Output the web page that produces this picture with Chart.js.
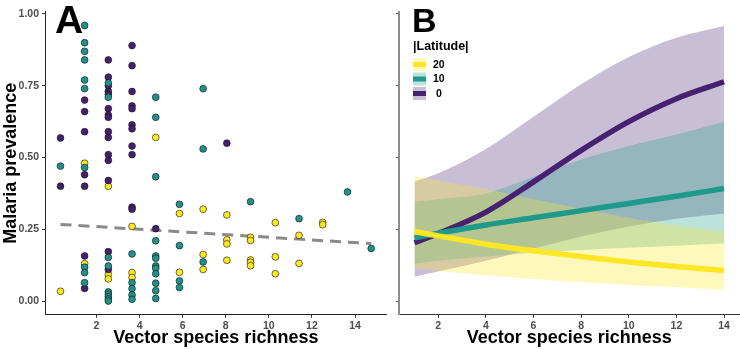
<!DOCTYPE html>
<html>
<head>
<meta charset="utf-8">
<script src="https://cdn.jsdelivr.net/npm/chart.js@4.4.1/dist/chart.umd.min.js"></script>
<style>
  body { margin: 0; background: #fff; }
  #wrap { position: relative; width: 740px; height: 349px; }
  #boxA { position: absolute; left: 0; top: 0; width: 392px; height: 349px; }
  #boxB { position: absolute; left: 392px; top: 0; width: 348px; height: 349px; }
</style>
</head>
<body>
<div id="wrap">
  <div id="boxA"><canvas id="chartA" width="392" height="349"></canvas></div>
  <div id="boxB"><canvas id="chartB" width="348" height="349"></canvas></div>
</div>
<script>
// panel A: points as [vector species richness, malaria prevalence]
const purplePoints = [
  [0.33, 0.568], [0.33, 0.40],
  [1.45, 0.70], [1.45, 0.66], [1.45, 0.59], [1.45, 0.44], [1.45, 0.40], [1.45, 0.157], [1.45, 0.044],
  [2.55, 0.84], [2.55, 0.78], [2.55, 0.75], [2.55, 0.73], [2.55, 0.72], [2.55, 0.67], [2.55, 0.648],
  [2.55, 0.64], [2.55, 0.59], [2.55, 0.57], [2.55, 0.51], [2.55, 0.49], [2.55, 0.42], [2.55, 0.172], [2.55, 0.11],
  [3.65, 0.89], [3.65, 0.82], [3.65, 0.73], [3.65, 0.68], [3.65, 0.67], [3.65, 0.614], [3.65, 0.60],
  [3.65, 0.54], [3.65, 0.51], [3.65, 0.327], [3.65, 0.32],
  [4.75, 0.252],
  [8.05, 0.55]
];
const tealPoints = [
  [0.33, 0.47],
  [1.45, 0.96], [1.45, 0.90], [1.45, 0.87], [1.45, 0.84], [1.45, 0.77], [1.45, 0.74], [1.45, 0.465],
  [1.45, 0.118], [1.45, 0.099], [1.45, 0.064],
  [2.55, 0.76], [2.55, 0.71], [2.55, 0.152], [2.55, 0.122], [2.55, 0.032], [2.55, 0.024], [2.55, 0.015],
  [2.55, 0.007], [2.55, 0.0],
  [3.65, 0.164], [3.65, 0.064], [3.65, 0.043], [3.65, 0.021], [3.65, 0.006],
  [4.75, 0.71], [4.75, 0.64], [4.75, 0.433], [4.75, 0.21], [4.75, 0.157], [4.75, 0.149], [4.75, 0.122],
  [4.75, 0.114], [4.75, 0.095], [4.75, 0.062], [4.75, 0.036], [4.75, 0.009],
  [5.85, 0.337], [5.85, 0.193], [5.85, 0.07], [5.85, 0.047],
  [6.95, 0.74], [6.95, 0.53], [6.95, 0.136],
  [9.15, 0.346], [11.4, 0.287], [13.65, 0.38], [14.75, 0.183]
];
const yellowPoints = [
  [0.33, 0.034],
  [1.45, 0.48], [1.45, 0.13],
  [2.55, 0.40], [2.55, 0.093], [2.55, 0.077],
  [3.65, 0.26], [3.65, 0.099], [3.65, 0.082],
  [4.75, 0.57],
  [5.85, 0.305], [5.85, 0.10],
  [6.95, 0.32], [6.95, 0.162], [6.95, 0.11],
  [8.05, 0.30], [8.05, 0.213], [8.05, 0.199], [8.05, 0.142],
  [9.15, 0.222], [9.15, 0.211], [9.15, 0.143], [9.15, 0.135], [9.15, 0.123],
  [10.3, 0.273], [10.3, 0.154], [10.3, 0.095],
  [11.4, 0.229], [11.4, 0.131],
  [12.5, 0.274], [12.5, 0.266]
];
const trendX = [0.33, 14.75];
const trendY = [0.267, 0.200];

// panel B: fitted prevalence and interval per |latitude|
const bandX = [1, 2, 4, 6, 8, 10, 12, 14];
const yellowFit = [0.242, 0.227, 0.198, 0.175, 0.155, 0.136, 0.120, 0.106];
const yellowHigh = [0.436, 0.420, 0.390, 0.355, 0.322, 0.290, 0.263, 0.241];
const yellowLow = [0.114, 0.105, 0.090, 0.077, 0.066, 0.056, 0.048, 0.040];
const tealFit = [0.220, 0.236, 0.265, 0.290, 0.315, 0.340, 0.365, 0.392];
const tealHigh = [0.346, 0.355, 0.375, 0.433, 0.493, 0.540, 0.580, 0.625];
const tealLow = [0.131, 0.140, 0.155, 0.168, 0.178, 0.186, 0.193, 0.200];
const purpleFit = [0.203, 0.235, 0.310, 0.415, 0.525, 0.625, 0.705, 0.764];
const purpleHigh = [0.416, 0.445, 0.530, 0.642, 0.755, 0.850, 0.917, 0.958];
const purpleLow = [0.085, 0.103, 0.140, 0.183, 0.225, 0.260, 0.287, 0.305];

const xTicks = [2, 4, 6, 8, 10, 12, 14];
const yTicks = [0, 0.25, 0.5, 0.75, 1];
const legendLabels = ["20", "10", " 0"];

const FONT = '"Liberation Sans", Arial, sans-serif';
const PURPLE = "#46216F";
const TEAL = "#1F9A8A";
const YELLOW = "#FDE725";
const PURPLE_BAND = "rgba(72, 40, 120, 0.3)";
const TEAL_BAND = "rgba(31, 158, 137, 0.3)";
const YELLOW_BAND = "rgba(253, 231, 37, 0.3)";

Chart.defaults.font.family = FONT;
Chart.defaults.animation = false;

const toXY = (xs, ys) => xs.map((x, i) => ({ x: x, y: ys[i] }));

const pointSet = (label, pts, color) => ({
  type: "scatter",
  label: label,
  data: pts.map((p) => ({ x: p[0], y: p[1] })),
  backgroundColor: color,
  borderColor: "#111",
  borderWidth: 0.6,
  pointRadius: 3.4,
  pointHoverRadius: 3.4,
});

const tickFont = { family: FONT, size: 10.5, weight: "bold" };
const titleFont = { family: FONT, size: 18, weight: "bold" };

// big panel letters and the latitude legend
const panelDecor = {
  id: "panelDecor",
  afterDraw(chart, args, opts) {
    const ctx = chart.ctx;
    ctx.save();
    ctx.fillStyle = "#000";
    ctx.textBaseline = "alphabetic";
    ctx.font = `bold ${opts.size}px ${FONT}`;
    ctx.fillText(opts.letter, opts.x, opts.y);
    if (opts.legend) {
      const lg = opts.legend;
      ctx.font = `bold 12.5px ${FONT}`;
      ctx.fillText("|Latitude|", lg.x, lg.y);
      const keys = [
        [YELLOW_BAND, YELLOW],
        [TEAL_BAND, TEAL],
        [PURPLE_BAND, PURPLE],
      ];
      keys.forEach((k, i) => {
        const top = lg.y + 8 + i * 14.5;
        ctx.fillStyle = "#fff";
        ctx.fillRect(lg.x, top, 13, 13);
        ctx.fillStyle = k[0];
        ctx.fillRect(lg.x, top, 13, 13);
        ctx.fillStyle = k[1];
        ctx.fillRect(lg.x, top + 4, 13, 5);
        ctx.fillStyle = "#000";
        ctx.font = `bold 10.5px ${FONT}`;
        ctx.textBaseline = "middle";
        ctx.fillText(legendLabels[i], lg.x + 20, top + 7);
        ctx.textBaseline = "alphabetic";
      });
    }
    ctx.restore();
  },
};

new Chart(document.getElementById("chartA"), {
  type: "scatter",
  data: {
    datasets: [
      pointSet("10", tealPoints, "#21918C"),
      pointSet("0", purplePoints, "#45206F"),
      pointSet("20", yellowPoints, "#FDE725"),
      {
        type: "line",
        label: "trend",
        data: toXY(trendX, trendY),
        borderColor: "#8a8a8a",
        borderWidth: 3,
        borderDash: [11, 7],
        pointRadius: 0,
        fill: false,
      },
    ],
  },
  options: {
    responsive: false,
    layout: { padding: { left: 0, right: 5.3, top: 11.7, bottom: 0 } },
    plugins: {
      legend: { display: false },
      tooltip: { enabled: false },
      panelDecor: { letter: "A", size: 39, x: 55, y: 33 },
    },
    scales: {
      x: {
        type: "linear",
        min: -0.39,
        max: 15.47,
        afterBuildTicks: (s) => { s.ticks = xTicks.map((v) => ({ value: v })); },
        afterFit: (s) => { s.height = 34.2; },
        ticks: { font: tickFont, color: "#4d4d4d", padding: 2, maxRotation: 0, callback: (v) => String(v) },
        grid: { drawOnChartArea: false, tickLength: 3, tickColor: "#333" },
        border: { color: "#222", width: 1 },
        title: { display: true, text: "Vector species richness", font: titleFont, color: "#000", padding: 0 },
      },
      y: {
        min: -0.048,
        max: 1.008,
        afterBuildTicks: (s) => { s.ticks = yTicks.map((v) => ({ value: v })); },
        afterFit: (s) => { s.width = 45; },
        ticks: { font: tickFont, color: "#4d4d4d", padding: 3, callback: (v) => v.toFixed(2) },
        grid: { drawOnChartArea: false, tickLength: 3, tickColor: "#333" },
        border: { color: "#222", width: 1 },
        title: { display: true, text: "Malaria prevalence", font: titleFont, color: "#000", padding: 0 },
      },
    },
  },
  plugins: [panelDecor],
});

const fitLine = (label, ys, color) => ({
  label: label,
  data: toXY(bandX, ys),
  borderColor: color,
  borderWidth: 5.5,
  pointRadius: 0,
  fill: false,
  cubicInterpolationMode: "monotone",
});
const bandEdge = (label, ys, fill, color) => ({
  label: label,
  data: toXY(bandX, ys),
  borderWidth: 0,
  borderColor: "rgba(0,0,0,0)",
  backgroundColor: color,
  pointRadius: 0,
  fill: fill,
  cubicInterpolationMode: "monotone",
});

new Chart(document.getElementById("chartB"), {
  type: "line",
  data: {
    datasets: [
      fitLine("20", yellowFit, YELLOW),
      fitLine("10", tealFit, TEAL),
      fitLine("0", purpleFit, PURPLE),
      bandEdge("20 high", yellowHigh, "+1", YELLOW_BAND),
      bandEdge("20 low", yellowLow, false, YELLOW_BAND),
      bandEdge("10 high", tealHigh, "+1", TEAL_BAND),
      bandEdge("10 low", tealLow, false, TEAL_BAND),
      bandEdge("0 high", purpleHigh, "+1", PURPLE_BAND),
      bandEdge("0 low", purpleLow, false, PURPLE_BAND),
    ],
  },
  options: {
    responsive: false,
    layout: { padding: { left: 0, right: 0.5, top: 11.7, bottom: 0 } },
    plugins: {
      legend: { display: false },
      tooltip: { enabled: false },
      panelDecor: { letter: "B", size: 34, x: 20, y: 32, legend: { x: 21, y: 50 } },
    },
    scales: {
      x: {
        type: "linear",
        min: 0.35,
        max: 14.65,
        afterBuildTicks: (s) => { s.ticks = xTicks.map((v) => ({ value: v })); },
        afterFit: (s) => { s.height = 34.2; },
        ticks: { font: tickFont, color: "#4d4d4d", padding: 2, maxRotation: 0, callback: (v) => String(v) },
        grid: { drawOnChartArea: false, tickLength: 3, tickColor: "#333" },
        border: { color: "#333", width: 1 },
        title: { display: true, text: "Vector species richness", font: titleFont, color: "#000", padding: 0 },
      },
      y: {
        min: -0.048,
        max: 1.008,
        afterBuildTicks: (s) => { s.ticks = yTicks.map((v) => ({ value: v })); },
        afterFit: (s) => { s.width = 7; },
        ticks: { callback: () => "", padding: 0 },
        grid: { drawOnChartArea: false, tickLength: 3, tickColor: "#555" },
        border: { color: "#8c8c8c", width: 2 },
      },
    },
  },
  plugins: [panelDecor],
});
</script>
</body>
</html>
